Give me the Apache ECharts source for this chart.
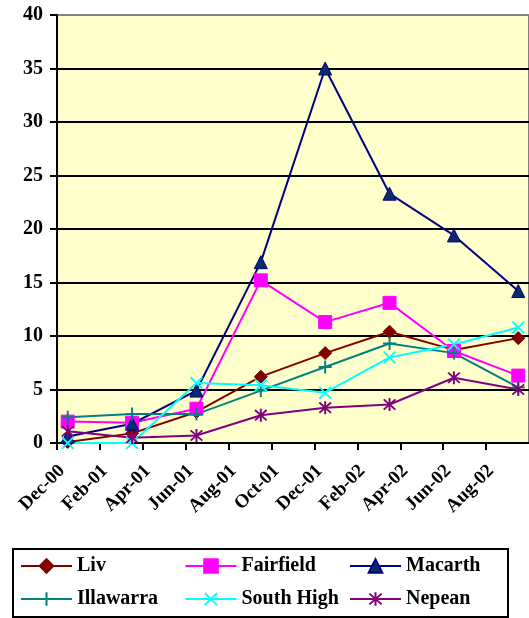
<!DOCTYPE html>
<html>
<head>
<meta charset="utf-8">
<script src="https://cdn.jsdelivr.net/npm/echarts@6/dist/echarts.min.js"></script>
<style>
  html, body { margin: 0; padding: 0; background: #ffffff; }
  #chart { width: 529px; height: 618px; }
</style>
</head>
<body>
<div id="chart"></div>
<script>
// Quarterly readings
const dataMonths = ['Dec-00', 'Mar-01', 'Jun-01', 'Sep-01', 'Dec-01', 'Mar-02', 'Jun-02', 'Sep-02'];
const liv        = [0.1, 0.9, 2.9, 6.2, 8.4, 10.4, 8.7, 9.8];
const fairfield  = [2.0, 1.9, 3.2, 15.2, 11.3, 13.1, 8.6, 6.3];
const macarth    = [0.6, 1.8, 4.9, 16.9, 35.0, 23.3, 19.4, 14.2];
const illawarra  = [2.4, 2.7, 2.7, 4.9, 7.1, 9.3, 8.4, 5.2];
const southHigh  = [0.0, 0.0, 5.6, 5.4, 4.7, 8.0, 9.2, 10.8];
const nepean     = [1.1, 0.5, 0.7, 2.6, 3.3, 3.6, 6.1, 5.0];

// Date-axis tick labels, one every two months starting Dec-00
const tickLabels = ['Dec-00', 'Feb-01', 'Apr-01', 'Jun-01', 'Aug-01', 'Oct-01',
                    'Dec-01', 'Feb-02', 'Apr-02', 'Jun-02', 'Aug-02'];
const yTicks = [0, 5, 10, 15, 20, 25, 30, 35, 40];

const MONTHS = ['Jan','Feb','Mar','Apr','May','Jun','Jul','Aug','Sep','Oct','Nov','Dec'];
// Months elapsed since Dec-00, plotted at mid-month like a date axis
function monthPos(label) {
  const [m, yy] = label.split('-');
  const idx = (2000 + Number(yy)) * 12 + MONTHS.indexOf(m) - (2000 * 12 + 11);
  return idx + 0.5;
}

const FONT = "'Liberation Serif', 'Times New Roman', serif";

const PLUS = 'path://M8.5,0h3v20h-3zM0,8.5h20v3h-20z';
const CROSS = 'path://M0,2L2,0L20,18L18,20ZM18,0L20,2L2,20L0,18Z';
const STAR = 'path://M0,3L2,1L20,17L18,19ZM18,1L20,3L2,19L0,17ZM8.5,0h3v20h-3z';

function makeSeries(name, values, symbol, lineColor, fillColor, border) {
  return {
    name: name,
    type: 'line',
    data: dataMonths.map((m, i) => [monthPos(m), values[i]]),
    symbol: symbol,
    symbolSize: 13,
    showSymbol: true,
    lineStyle: { color: lineColor, width: 2 },
    itemStyle: { color: fillColor, borderColor: lineColor, borderWidth: border },
    emphasis: { disabled: true },
    z: 3
  };
}

const series = [
  makeSeries('Liv', liv, 'diamond', '#800000', '#800000', 1),
  makeSeries('Fairfield', fairfield, 'rect', '#FF00FF', '#FF00FF', 1),
  makeSeries('Macarth', macarth, 'triangle', '#000080', '#0A2C6B', 1),
  makeSeries('Illawarra', illawarra, PLUS, '#008080', '#008080', 0),
  makeSeries('South High', southHigh, CROSS, '#00FFFF', '#00FFFF', 0),
  makeSeries('Nepean', nepean, STAR, '#800080', '#800080', 0)
];

const legendText = {
  fontFamily: FONT, fontWeight: 'bold', fontSize: 20, color: '#000',
  width: 98, lineHeight: 20
};

const chart = echarts.init(document.getElementById('chart'), null, { renderer: 'canvas' });
chart.setOption({
  animation: false,
  backgroundColor: '#ffffff',
  grid: {
    left: 57, top: 15, bottom: 175, right: -8,
    show: true, backgroundColor: '#FFFFCC',
    borderColor: '#808080', borderWidth: 2
  },
  xAxis: {
    type: 'value',
    min: 0, max: 22, interval: 2,
    axisLine: { show: true, onZero: false, lineStyle: { color: '#000', width: 2 } },
    axisTick: { show: true, length: 7, lineStyle: { color: '#000', width: 2 } },
    splitLine: { show: false },
    axisLabel: {
      rotate: 45,
      margin: 30,
      padding: [0, -7, 0, 0],
      fontFamily: FONT, fontWeight: 'bold', fontSize: 19, color: '#000',
      showMaxLabel: false,
      formatter: v => tickLabels[Math.round(v / 2)] || ''
    }
  },
  yAxis: {
    type: 'value',
    min: yTicks[0], max: yTicks[yTicks.length - 1], interval: 5,
    axisLine: { show: true, lineStyle: { color: '#000', width: 2 } },
    axisTick: { show: true, length: 7, lineStyle: { color: '#000', width: 2 } },
    splitLine: {
      show: true, showMaxLine: false,
      lineStyle: { color: ['#000', '#000', '#000', '#000', '#000', '#000', '#000', '#000', '#808080'], width: 2 }
    },
    axisLabel: {
      margin: 14,
      fontFamily: FONT, fontWeight: 'bold', fontSize: 20, color: '#000'
    }
  },
  legend: [
    {
      data: ['Liv', 'Fairfield', 'Macarth'],
      orient: 'horizontal', left: 20, top: 556, padding: 0,
      itemWidth: 51, itemHeight: 17, itemGap: 9.5,
      selectedMode: false, textStyle: legendText
    },
    {
      data: ['Illawarra', 'South High', 'Nepean'],
      orient: 'horizontal', left: 20, top: 589, padding: 0,
      itemWidth: 51, itemHeight: 17, itemGap: 9.5,
      selectedMode: false, textStyle: legendText
    }
  ],
  graphic: [
    {
      type: 'rect', z: 100, silent: true,
      shape: { x: 13, y: 549, width: 495, height: 68 },
      style: { fill: 'none', stroke: '#000', lineWidth: 2 }
    }
  ],
  series: series
});
</script>
</body>
</html>
